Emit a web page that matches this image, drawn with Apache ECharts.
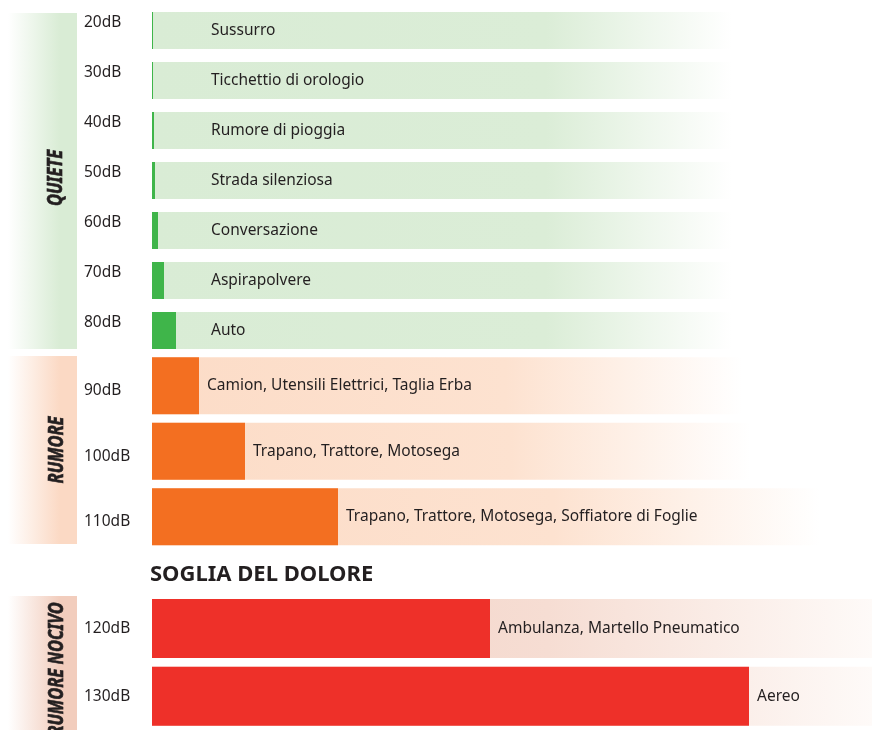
<!DOCTYPE html>
<html>
<head>
<meta charset="utf-8">
<script src="https://cdn.jsdelivr.net/npm/echarts@6/dist/echarts.min.js"></script>
<style>
html,body{margin:0;padding:0;background:#fff;}
#chart{width:872px;height:730px;}
</style>
</head>
<body>
<div id="chart"></div>
<script>
// ---- data ----
const dbLabels = ['20dB','30dB','40dB','50dB','60dB','70dB','80dB','90dB','100dB','110dB','120dB','130dB'];
const sources = ['Sussurro','Ticchettio di orologio','Rumore di pioggia','Strada silenziosa','Conversazione','Aspirapolvere','Auto',
  'Camion, Utensili Elettrici, Taglia Erba','Trapano, Trattore, Motosega','Trapano, Trattore, Motosega, Soffiatore di Foglie',
  'Ambulanza, Martello Pneumatico','Aereo'];
// perceived loudness (relative units)
const loudness = [1, 1, 2, 3, 6, 12, 24, 47, 93, 186, 338, 597];
// length of the faded background strip for each row (same units)
const stripLength = [580, 580, 580, 580, 580, 580, 580, 590, 598, 668, 720, 720];
const zoneNames = ['QUIETE', 'RUMORE', 'RUMORE NOCIVO'];
const zoneRowCount = [7, 3, 2];
const painTitle = 'SOGLIA DEL DOLORE';

// ---- styling ----
const AX_MAX = 720;
const textColor = '#231f20';
const baseFont = "'Noto Sans', 'Open Sans', sans-serif";
const zoneStyle = [
  {bar:'#3fb54a', strip:['#d9ecd5','#dbedd7','rgba(255,255,255,1)'], mid:0.68, band:'#d9ecd5', grid:{top:5.5,height:350}, barWidth:37,
    axLabel:{verticalAlign:'bottom'}, labelOnStrip:true},
  {bar:'#f36f21', strip:['#fcdcc7','#fde2d0','rgba(255,255,255,1)'], mid:0.6, band:'#fbd9c4', grid:{top:353,height:196.5}, barWidth:57,
    axLabel:{verticalAlign:'top', lineHeight:10}, labelOnStrip:false},
  {bar:'#ee3029', strip:['#f2cfc2','#f6ddd3','#fefaf8'], mid:0.55, band:'#f2cdbd', grid:{top:594.5,height:136}, barWidth:59,
    axLabel:{verticalAlign:'middle'}, labelOnStrip:false}
];

const grids = [], xAxes = [], yAxes = [], series = [];
let start = 0;
zoneRowCount.forEach((n, z) => {
  const st = zoneStyle[z];
  const rows = dbLabels.slice(start, start + n);
  const names = sources.slice(start, start + n);
  const vals = loudness.slice(start, start + n);
  const strips = stripLength.slice(start, start + n);
  grids.push({left:152, right:0, top:st.grid.top, height:st.grid.height});
  xAxes.push({type:'value', gridIndex:z, min:0, max:AX_MAX, show:false});
  yAxes.push({type:'category', gridIndex:z, inverse:true, data:rows,
    axisLine:{show:false}, axisTick:{show:false}, splitLine:{show:false},
    axisLabel:Object.assign({align:'left', margin:68, fontSize:15.5, color:textColor, fontFamily:baseFont}, st.axLabel)});
  const labelText = {fontSize:15.5, color:textColor, fontFamily:baseFont};
  series.push({
    type:'bar', xAxisIndex:z, yAxisIndex:z, barWidth:st.barWidth, silent:true,
    itemStyle:{color:new echarts.graphic.LinearGradient(0,0,1,0,[
      {offset:0,color:st.strip[0]},{offset:st.mid,color:st.strip[1]},{offset:1,color:st.strip[2]}])},
    label: st.labelOnStrip ? Object.assign({show:true, position:'insideLeft', distance:59,
      formatter:(p)=>names[p.dataIndex]}, labelText) : {show:false},
    data: strips
  });
  series.push({
    type:'bar', xAxisIndex:z, yAxisIndex:z, barWidth:st.barWidth, barGap:'-100%', silent:true,
    itemStyle:{color:st.bar},
    label: st.labelOnStrip ? {show:false} : Object.assign({show:true, position:'right', distance:8,
      formatter:(p)=>names[p.dataIndex]}, labelText),
    data: vals
  });
  start += n;
});

// zone side bands + vertical titles
const bandRects = [
  {y:13, h:336}, {y:356, h:188}, {y:596, h:140}
];
const zoneTitlePos = [{x:56, y:178}, {x:57, y:450}, {x:57, y:669}];
const graphics = [];
zoneNames.forEach((name, z) => {
  graphics.push({type:'rect', left:8, top:bandRects[z].y, silent:true, z:-1,
    shape:{width:69, height:bandRects[z].h},
    style:{fill:new echarts.graphic.LinearGradient(0,0,1,0,[
      {offset:0,color:'rgba(255,255,255,1)'},{offset:0.75,color:zoneStyle[z].band},{offset:1,color:zoneStyle[z].band}])}});
  graphics.push({type:'text', x:zoneTitlePos[z].x, y:zoneTitlePos[z].y, rotation:Math.PI/2, scaleX:0.78, silent:true, z:5,
    style:{text:name, fill:'#231f20', stroke:'#231f20', lineWidth:0.7, fontSize:21, fontWeight:'bold', fontStyle:'italic',
      fontFamily:baseFont, align:'center', verticalAlign:'middle'}});
});
graphics.push({type:'text', x:150, y:575, silent:true,
  style:{text:painTitle, fill:'#231f20', fontSize:22, fontWeight:'bold', fontFamily:baseFont,
    align:'left', verticalAlign:'middle'}});

const chart = echarts.init(document.getElementById('chart'), null, {renderer:'canvas'});
chart.setOption({
  animation:false,
  backgroundColor:'#ffffff',
  grid:grids, xAxis:xAxes, yAxis:yAxes, series:series, graphic:graphics
});
</script>
</body>
</html>
